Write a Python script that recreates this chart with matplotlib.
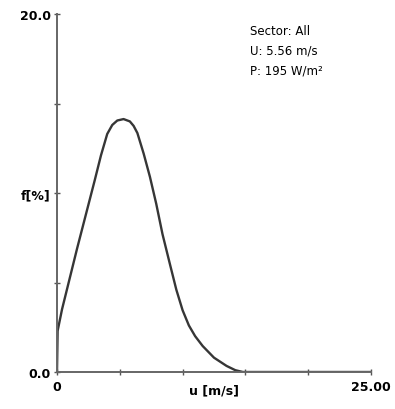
import matplotlib
matplotlib.use("Agg")
import matplotlib.pyplot as plt
import matplotlib.transforms as mtransforms

# wind speed (m/s) and frequency (%)
wind_speed = [0, 0.05, 0.4, 1.0, 1.6, 2.3, 3.0, 3.5, 4.0, 4.4, 4.8, 5.3, 5.8, 6.1,
              6.4, 6.9, 7.4, 7.9, 8.4, 9.0, 9.5, 10.0, 10.5, 11.0, 11.6, 12.5, 13.5,
              14.2, 14.8, 25]
frequency = [0, 2.3, 3.5, 5.2, 6.9, 8.8, 10.7, 12.1, 13.3, 13.8, 14.05, 14.13, 14.0, 13.75,
             13.35, 12.2, 10.9, 9.4, 7.7, 6.0, 4.6, 3.45, 2.6, 2.0, 1.45, 0.8, 0.34,
             0.1, 0.0, 0.0]

x_ticks = [0, 5, 10, 15, 20, 25]
x_tick_labels = ["0", "", "", "", "", "25.00"]
y_ticks = [0, 5, 10, 15, 20]
y_tick_labels = ["0.0", "", "f[%]", "", "20.0"]
x_label = "u [m/s]"
info_lines = ["Sector: All", "U: 5.56 m/s", "P: 195 W/m\u00b2"]

fig = plt.figure(figsize=(3.95, 4.10), dpi=100)
ax = fig.add_axes([57/395, 1-373/410, (371-57)/395, (373-15)/410])

ax.plot(wind_speed, frequency, color="#363636", lw=1.7, solid_joinstyle="round")

ax.set_xlim(0, 25)
ax.set_ylim(0, 20)
for s in ["top", "right"]:
    ax.spines[s].set_visible(False)
for s in ["left", "bottom"]:
    ax.spines[s].set_color("#666666")
    ax.spines[s].set_linewidth(1.4)

ax.set_xticks(x_ticks)
ax.set_xticklabels(x_tick_labels)
ax.set_yticks(y_ticks)
ax.set_yticklabels(y_tick_labels)
ax.tick_params(axis="both", direction="inout", length=5, width=1, color="#555555",
               labelsize=9, pad=3)
for lbl in ax.get_xticklabels() + ax.get_yticklabels():
    lbl.set_fontweight("bold")
ax.tick_params(axis="y", pad=2)

trans = mtransforms.blended_transform_factory(ax.transData, ax.transAxes)
ax.text(12.5, -0.032, x_label, transform=trans, ha="center", va="top",
        fontsize=9, fontweight="bold")

for i, line in enumerate(info_lines):
    ax.text(0.615, 0.955 - i*0.056, line, transform=ax.transAxes, ha="left",
            va="center", fontsize=8.5)

fig.savefig("out.png", dpi=100, facecolor="white")
